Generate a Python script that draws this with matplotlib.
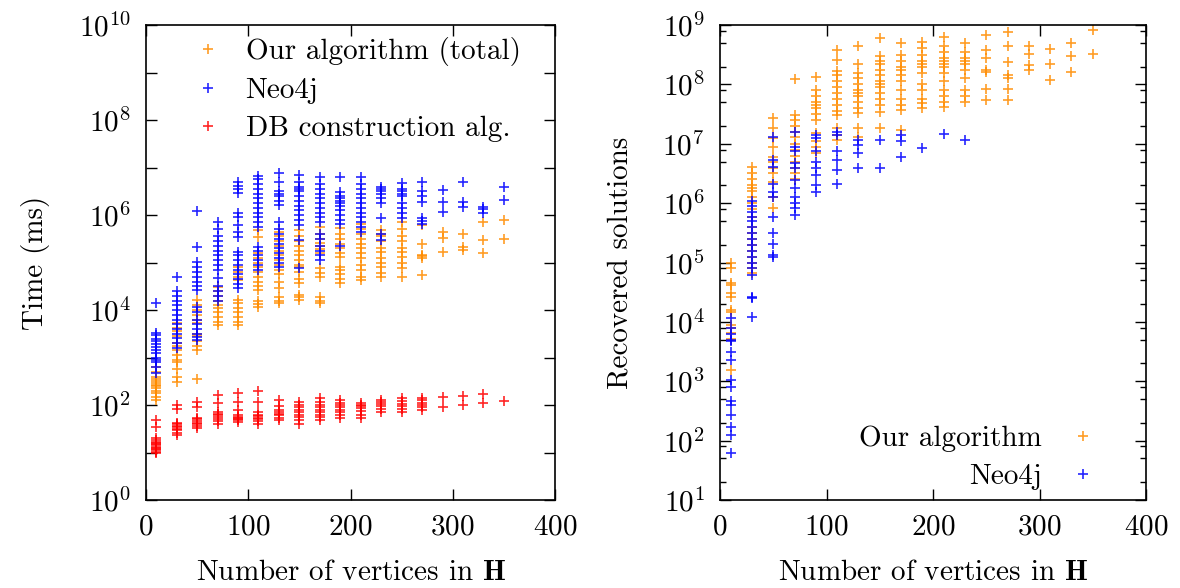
import numpy as np
import matplotlib
matplotlib.use('Agg')
import matplotlib.pyplot as plt
from matplotlib.ticker import FixedLocator, NullFormatter

plt.rcParams['font.family'] = ['cmr10', 'DejaVu Serif']
plt.rcParams['mathtext.fontset'] = 'cm'
plt.rcParams['axes.formatter.use_mathtext'] = True

# number of vertices in H (one column of points per size)
sizes = [10, 30, 50, 70, 90, 110, 130, 150, 170, 190, 210, 230, 250, 270, 290, 310, 330, 350]

# left panel: log10 of time (ms), one list per size
time_ours = [
    [2.1, 2.17, 2.25, 2.3, 2.35, 2.4, 2.42, 2.46, 2.5, 2.55, 2.59, 2.7, 2.8],
    [2.48, 2.6, 2.75, 2.9, 2.95, 3.05, 3.16, 3.25, 3.3, 3.45, 3.55, 3.62, 3.72],
    [2.55, 3.16, 3.25, 3.35, 3.45, 3.5, 3.72, 3.8, 3.9, 4.0, 4.1, 4.21],
    [3.68, 3.75, 3.85, 3.95, 4.05, 4.1, 4.2, 4.3, 4.4, 4.49],
    [3.68, 3.75, 3.85, 3.95, 4.05, 4.15, 4.21, 4.63, 4.7, 4.8, 4.91],
    [4.07, 4.12, 4.18, 4.42, 4.5, 4.6, 4.7, 4.8, 4.9, 5.0, 5.1, 5.2, 5.54, 5.68],
    [4.14, 4.2, 4.28, 4.46, 4.6, 4.75, 4.85, 4.95, 5.05, 5.15, 5.25, 5.35, 5.45, 5.55, 5.65],
    [4.21, 4.27, 4.32, 4.56, 4.65, 4.8, 4.9, 4.95, 5.05, 5.15, 5.25, 5.35, 5.45, 5.55, 5.68],
    [4.14, 4.2, 4.28, 4.7, 4.78, 4.88, 5.19, 5.28, 5.35, 5.42, 5.5, 5.6, 5.75],
    [4.56, 4.65, 4.75, 4.85, 4.91, 5.12, 5.2, 5.3, 5.4, 5.5, 5.6, 5.72],
    [4.63, 4.7, 4.85, 4.95, 5.1, 5.2, 5.3, 5.4, 5.5, 5.6, 5.7, 5.82],
    [4.7, 4.78, 4.9, 5.0, 5.1, 5.22, 5.3, 5.45, 5.55, 5.6, 5.68],
    [4.7, 4.88, 5.0, 5.12, 5.22, 5.3, 5.45, 5.55, 5.7, 5.86],
    [4.74, 5.09, 5.13, 5.16, 5.4, 5.79],
    [5.23, 5.51, 5.65],
    [5.26, 5.32, 5.6],
    [5.19, 5.47, 5.86],
    [5.49, 5.89],
]
time_neo = [
    [2.67, 2.8, 2.9, 2.95, 3.0, 3.1, 3.16, 3.22, 3.28, 3.35, 3.4, 3.47, 3.52, 4.14],
    [3.2, 3.3, 3.41, 3.5, 3.6, 3.7, 3.79, 3.9, 4.0, 4.1, 4.2, 4.3, 4.39, 4.7],
    [3.37, 3.44, 3.5, 3.6, 3.7, 3.8, 3.95, 4.07, 4.42, 4.5, 4.6, 4.7, 4.8, 4.9, 5.02, 5.32, 6.09],
    [4.18, 4.3, 4.4, 4.5, 4.67, 4.84, 4.95, 5.05, 5.15, 5.25, 5.35, 5.45, 5.55, 5.7, 5.86],
    [4.46, 4.55, 4.65, 4.75, 4.85, 4.95, 5.05, 5.15, 5.23, 5.54, 5.65, 5.8, 5.95, 6.04, 6.46, 6.55, 6.62, 6.7],
    [4.84, 4.95, 5.05, 5.15, 5.25, 5.33, 5.75, 5.85, 5.95, 6.05, 6.15, 6.25, 6.35, 6.45, 6.55, 6.65, 6.75, 6.82],
    [4.91, 5.0, 5.1, 5.2, 5.3, 5.4, 5.5, 5.6, 5.7, 5.86, 6.21, 6.3, 6.4, 6.45, 6.5, 6.7, 6.88],
    [4.88, 5.47, 5.79, 5.9, 6.0, 6.1, 6.2, 6.3, 6.4, 6.5, 6.55, 6.6, 6.7, 6.84],
    [5.05, 5.15, 5.25, 5.35, 5.5, 5.61, 5.86, 5.95, 6.05, 6.15, 6.25, 6.35, 6.45, 6.55, 6.65, 6.79],
    [5.35, 5.82, 5.9, 6.0, 6.1, 6.2, 6.25, 6.3, 6.35, 6.4, 6.49, 6.81],
    [5.65, 5.75, 5.85, 5.95, 6.05, 6.15, 6.25, 6.35, 6.45, 6.55, 6.65, 6.81],
    [5.47, 5.6, 5.93, 6.25, 6.35, 6.45, 6.5, 6.55, 6.6],
    [5.93, 6.05, 6.15, 6.25, 6.4, 6.45, 6.5, 6.55, 6.67],
    [5.82, 5.88, 5.93, 6.28, 6.4, 6.5, 6.7],
    [6.07, 6.28, 6.53],
    [6.17, 6.28, 6.7],
    [6.04, 6.12, 6.17],
    [6.32, 6.6],
]
time_db = [
    [0.98, 1.02, 1.05, 1.08, 1.1, 1.12, 1.15, 1.18, 1.2, 1.23, 1.26, 1.3, 1.54, 1.68],
    [1.37, 1.42, 1.47, 1.5, 1.53, 1.56, 1.6, 1.62, 1.91, 2.0],
    [1.52, 1.56, 1.6, 1.63, 1.66, 1.7, 1.73, 1.96, 2.07],
    [1.61, 1.66, 1.7, 1.74, 1.78, 1.82, 1.86, 2.04, 2.21],
    [1.65, 1.68, 1.7, 1.72, 1.75, 1.79, 1.89, 2.07, 2.26],
    [1.61, 1.66, 1.7, 1.73, 1.76, 1.8, 1.86, 2.07, 2.3],
    [1.68, 1.73, 1.78, 1.82, 1.86, 1.89, 1.98, 2.1],
    [1.61, 1.68, 1.75, 1.8, 1.85, 1.9, 1.95, 2.0, 2.07],
    [1.68, 1.75, 1.8, 1.85, 1.9, 1.95, 2.0, 2.06, 2.15],
    [1.72, 1.8, 1.86, 1.9, 1.95, 2.0, 2.05, 2.1],
    [1.72, 1.8, 1.88, 1.93, 1.97, 2.0, 2.04],
    [1.86, 1.92, 1.97, 2.02, 2.06, 2.1],
    [1.86, 1.92, 1.98, 2.03, 2.08, 2.15],
    [1.89, 1.95, 2.0, 2.05, 2.1, 2.15],
    [1.95, 2.16],
    [2.0, 2.19],
    [2.05, 2.23],
    [2.09],
]

# right panel: log10 of recovered solutions
sol_ours = [
    [3.19, 3.69, 3.72, 3.81, 3.89, 3.95, 4.17, 4.2, 4.42, 4.48, 4.62, 4.65, 4.9, 4.99],
    [4.82, 4.9, 5.0, 5.1, 5.2, 5.3, 5.4, 5.5, 5.6, 5.77, 5.9, 6.0, 6.1, 6.2, 6.25, 6.3, 6.4, 6.5, 6.61],
    [5.92, 6.11, 6.36, 6.5, 6.6, 6.7, 6.78, 6.95, 7.1, 7.26, 7.43],
    [6.4, 6.5, 6.6, 6.7, 6.8, 6.9, 7.0, 7.12, 7.2, 7.3, 7.4, 7.48, 8.09],
    [6.84, 6.95, 7.05, 7.18, 7.4, 7.5, 7.6, 7.65, 7.7, 7.8, 7.9, 8.13],
    [7.06, 7.15, 7.26, 7.48, 7.55, 7.65, 7.75, 7.85, 7.95, 8.05, 8.15, 8.22, 8.41, 8.58],
    [7.12, 7.26, 7.51, 7.6, 7.7, 7.8, 7.85, 7.9, 8.0, 8.1, 8.2, 8.35, 8.64],
    [7.26, 7.54, 7.65, 7.75, 7.85, 7.95, 8.0, 8.05, 8.15, 8.25, 8.35, 8.4, 8.47, 8.78],
    [7.23, 7.57, 7.65, 7.75, 7.9, 8.05, 8.15, 8.25, 8.3, 8.4, 8.49, 8.69],
    [7.6, 7.68, 7.75, 7.9, 8.0, 8.2, 8.3, 8.35, 8.4, 8.5, 8.61, 8.72],
    [7.62, 7.7, 7.8, 7.9, 8.05, 8.2, 8.3, 8.35, 8.4, 8.45, 8.55, 8.65, 8.8],
    [7.71, 7.8, 7.9, 8.1, 8.25, 8.35, 8.4, 8.45, 8.55, 8.69],
    [7.74, 7.93, 8.21, 8.24, 8.44, 8.58, 8.84],
    [7.74, 7.92, 8.1, 8.16, 8.38, 8.65, 8.89],
    [8.24, 8.33, 8.52, 8.64],
    [8.07, 8.34, 8.6],
    [8.21, 8.48, 8.69],
    [8.52, 8.92],
]
sol_neo = [
    [1.79, 2.09, 2.23, 2.43, 2.6, 2.66, 2.91, 3.02, 3.36, 3.5, 3.67, 3.69, 3.8, 3.9, 4.06],
    [4.08, 4.41, 4.42, 4.79, 4.9, 5.0, 5.1, 5.2, 5.3, 5.4, 5.5, 5.6, 5.7, 5.77, 5.85, 5.95, 6.03],
    [5.1, 5.13, 5.32, 5.49, 5.77, 6.11, 6.19, 6.33, 6.61, 6.73, 7.12],
    [5.8, 5.92, 6.0, 6.11, 6.25, 6.39, 6.59, 6.67, 6.87, 6.95, 7.2],
    [6.19, 6.31, 6.47, 6.59, 6.7, 6.87, 7.09, 7.15],
    [6.33, 6.56, 6.73, 6.87, 7.15, 7.2],
    [6.59, 6.84, 6.98, 7.06],
    [6.59, 7.06],
    [6.78, 7.04, 7.15],
    [6.93],
    [7.16],
    [7.07],
]

ORANGE = '#ff8c00'
BLUE = '#0000ff'
RED = '#ff0000'
FS = 21


def flatten(cols):
    xs, ys = [], []
    for x, vals in zip(sizes, cols):
        for v in vals:
            xs.append(x)
            ys.append(10 ** v)
    return np.array(xs), np.array(ys)


def scatter(ax, cols, color, label):
    xs, ys = flatten(cols)
    ax.plot(xs, ys, linestyle='none', marker='+', markersize=7.5, markeredgewidth=1.2,
            color=color, alpha=0.85, label=label)


def style_axes(ax):
    ax.set_xlim(0, 400)
    ax.set_xticks([0, 100, 200, 300, 400])
    ax.tick_params(which='both', direction='in', top=True, right=True, labelsize=FS,
                   width=1.0)
    ax.tick_params(axis='x', pad=10)
    ax.tick_params(axis='y', pad=11)
    ax.tick_params(which='major', length=8)
    ax.tick_params(which='minor', length=4)
    for s in ax.spines.values():
        s.set_linewidth(1.2)
    ax.set_xlabel(r'Number of vertices in $\mathbf{H}$', fontsize=FS, labelpad=14)


fig = plt.figure(figsize=(11.8, 5.88), dpi=100)
ax1 = fig.add_axes([146 / 1180, 1 - 500 / 588, 409 / 1180, 475 / 588])
ax2 = fig.add_axes([720 / 1180, 1 - 500 / 588, 426 / 1180, 475 / 588])

# left: running time
scatter(ax1, time_ours, ORANGE, 'Our algorithm (total)')
scatter(ax1, time_neo, BLUE, 'Neo4j')
scatter(ax1, time_db, RED, 'DB construction alg.')
ax1.set_yscale('log')
ax1.set_ylim(1, 1e10)
ax1.yaxis.set_major_locator(FixedLocator([10.0 ** k for k in range(11)]))
ax1.yaxis.set_minor_locator(FixedLocator([]))
ax1.set_yticklabels(['$10^{%d}$' % k if k % 2 == 0 else '' for k in range(11)])
style_axes(ax1)
ax1.set_ylabel('Time (ms)', fontsize=FS, labelpad=21)
ax1.legend(loc='upper left', bbox_to_anchor=(0.065, 1.012), frameon=False, fontsize=FS,
           handlelength=1.2, handletextpad=0.7, labelspacing=0.4, borderaxespad=0.2)

# right: recovered solutions
scatter(ax2, sol_ours, ORANGE, 'Our algorithm')
scatter(ax2, sol_neo, BLUE, 'Neo4j')
ax2.set_yscale('log')
ax2.set_ylim(10, 1e9)
ax2.yaxis.set_major_locator(FixedLocator([10.0 ** k for k in range(1, 10)]))
minors = [m * 10.0 ** k for k in range(1, 9) for m in (2, 5, 8)]
ax2.yaxis.set_minor_locator(FixedLocator(minors))
ax2.yaxis.set_minor_formatter(NullFormatter())
ax2.set_yticklabels(['$10^{%d}$' % k for k in range(1, 10)])
style_axes(ax2)
ax2.set_ylabel('Recovered solutions', fontsize=FS, labelpad=21)
ax2.legend(loc='lower right', bbox_to_anchor=(0.955, -0.035), frameon=False, fontsize=FS,
           markerfirst=False, handlelength=1.2, handletextpad=0.8, labelspacing=0.4)

fig.savefig('out.png', dpi=100)
